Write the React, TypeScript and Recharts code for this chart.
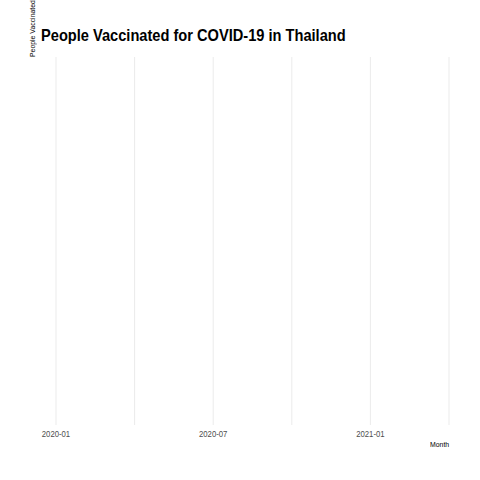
import React from 'react';
import { LineChart, Line, XAxis, YAxis, CartesianGrid } from 'recharts';

// month index from 2020-01
const months = [0, 3, 6, 9, 12, 15];
const tickLabels = ['2020-01', '', '2020-07', '', '2021-01', ''];
const vaccinated: (number | null)[] = [null, null, null, null, null, null];

const data = months.map((m, i) => ({ month: m, value: vaccinated[i] }));
const font = "'Liberation Sans Narrow', 'Liberation Sans', Arial, sans-serif";
const narrow = 0.86;

const Tick = (props: any) => {
  const { x, y, payload } = props;
  const label = tickLabels[months.indexOf(payload.value)];
  return (
    <text
      transform={`translate(${x},${y + 4}) scale(${narrow},1)`}
      textAnchor="middle"
      fontSize={9}
      fill="#4d4d4d"
      fontFamily={font}
    >
      {label}
    </text>
  );
};

export default function App() {
  return (
    <div style={{ position: 'absolute', left: 0, top: 0, width: 480, height: 480, background: '#fff', fontFamily: font }}>
      <div
        style={{
          position: 'absolute', left: 41, top: 26, fontSize: 17, fontWeight: 'bold', color: '#000',
          transform: `scaleX(${narrow})`, transformOrigin: 'left', whiteSpace: 'nowrap',
        }}
      >
        People Vaccinated for COVID-19 in Thailand
      </div>
      <div
        style={{
          position: 'absolute', left: 28, top: 57, fontSize: 8, color: '#000',
          writingMode: 'vertical-rl', transform: `rotate(180deg) scaleY(${narrow})`, transformOrigin: 'center top',
          whiteSpace: 'nowrap',
        }}
      >
        People Vaccinated
      </div>
      <div
        style={{
          position: 'absolute', left: 430, top: 440, fontSize: 8, color: '#000',
          transform: `scaleX(${narrow})`, transformOrigin: 'left',
        }}
      >
        Month
      </div>
      <LineChart width={480} height={480} data={data} margin={{ top: 57, right: 31, bottom: 25, left: 56 }}>
        <CartesianGrid horizontal={false} stroke="#ebebeb" strokeWidth={1} />
        <XAxis
          dataKey="month"
          type="number"
          domain={[0, 15]}
          ticks={months}
          height={30}
          axisLine={false}
          tickLine={false}
          tick={<Tick />}
          interval={0}
        />
        <YAxis hide domain={[0, 1]} />
        <Line dataKey="value" stroke="#000" dot={false} isAnimationActive={false} />
      </LineChart>
    </div>
  );
}
